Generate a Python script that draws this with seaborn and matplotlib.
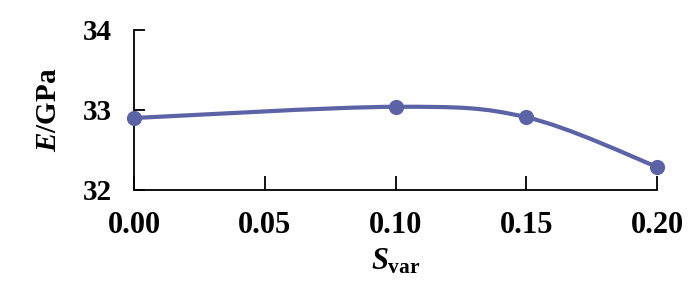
import numpy as np
import pandas as pd
import matplotlib
matplotlib.use("Agg")
import matplotlib.pyplot as plt
from matplotlib.path import Path
from matplotlib.patches import PathPatch
import seaborn as sns

# Data
s_var = [0.00, 0.10, 0.15, 0.20]
e_gpa = [32.90, 33.04, 32.91, 32.29]
x_ticks = [0.00, 0.05, 0.10, 0.15, 0.20]
x_tick_labels = ["0.00", "0.05", "0.10", "0.15", "0.20"]
y_ticks = [32, 33, 34]
y_tick_labels = ["32", "33", "34"]

sns.set_style("white")
plt.rcParams["font.family"] = ["Liberation Serif", "DejaVu Serif"]
plt.rcParams["font.weight"] = "bold"
plt.rcParams["text.color"] = "black"
plt.rcParams["axes.labelcolor"] = "black"
plt.rcParams["xtick.color"] = "black"
plt.rcParams["ytick.color"] = "black"
plt.rcParams["mathtext.fontset"] = "custom"
plt.rcParams["mathtext.it"] = "Liberation Serif:italic:bold"
plt.rcParams["mathtext.rm"] = "Liberation Serif:bold"
plt.rcParams["mathtext.bf"] = "Liberation Serif:bold"

color = "#5B63A6"
df = pd.DataFrame({"S": s_var, "E": e_gpa})

fig = plt.figure(figsize=(7, 3), dpi=100)
ax = fig.add_axes([134 / 700, 1 - 190 / 300, (657 - 134) / 700, 160 / 300])

# smoothed line (cardinal spline via Bezier segments, drawn in data coords)
x = np.array(s_var)
y = np.array(e_gpa)
n = len(x)
verts = [(x[0], y[0])]
codes = [Path.MOVETO]
t = 0.5
for i in range(n - 1):
    x0, y0 = (x[i - 1], y[i - 1]) if i > 0 else (x[i], y[i])
    x3, y3 = (x[i + 2], y[i + 2]) if i + 2 < n else (x[i + 1], y[i + 1])
    c1 = (x[i] + (x[i + 1] - x0) * t / 3, y[i] + (y[i + 1] - y0) * t / 3)
    c2 = (x[i + 1] - (x3 - x[i]) * t / 3, y[i + 1] - (y3 - y[i]) * t / 3)
    verts += [c1, c2, (x[i + 1], y[i + 1])]
    codes += [Path.CURVE4] * 3
ax.add_patch(PathPatch(Path(verts, codes), facecolor="none", edgecolor=color,
                       lw=3.0, clip_on=False, zorder=2))

sns.scatterplot(data=df, x="S", y="E", ax=ax, color=color, s=120,
                edgecolor=color, linewidth=0, zorder=3, clip_on=False)

ax.set_xlim(0, 0.2)
ax.set_ylim(32, 34)
ax.set_xticks(x_ticks)
ax.set_xticklabels(x_tick_labels, fontsize=22, fontweight="bold")
ax.set_yticks(y_ticks)
ax.set_yticklabels(y_tick_labels, fontsize=21, fontweight="bold")
ax.tick_params(axis="x", bottom=True, direction="in", length=10, width=1.3,
               pad=15, color="black", labelcolor="black")
ax.tick_params(axis="y", left=True, direction="in", length=8, width=1.3,
               pad=16, color="black", labelcolor="black")

for side in ["top", "right"]:
    ax.spines[side].set_visible(False)
for side in ["left", "bottom"]:
    ax.spines[side].set_color("black")
    ax.spines[side].set_linewidth(1.3)

ax.set_xlabel(r"$\mathit{S}_{\mathrm{var}}$", fontsize=22, labelpad=5, color="black")
ax.set_ylabel(r"$\mathit{E}$/GPa", fontsize=21, fontweight="bold", labelpad=15, color="black")

fig.savefig("out.png", dpi=100)
